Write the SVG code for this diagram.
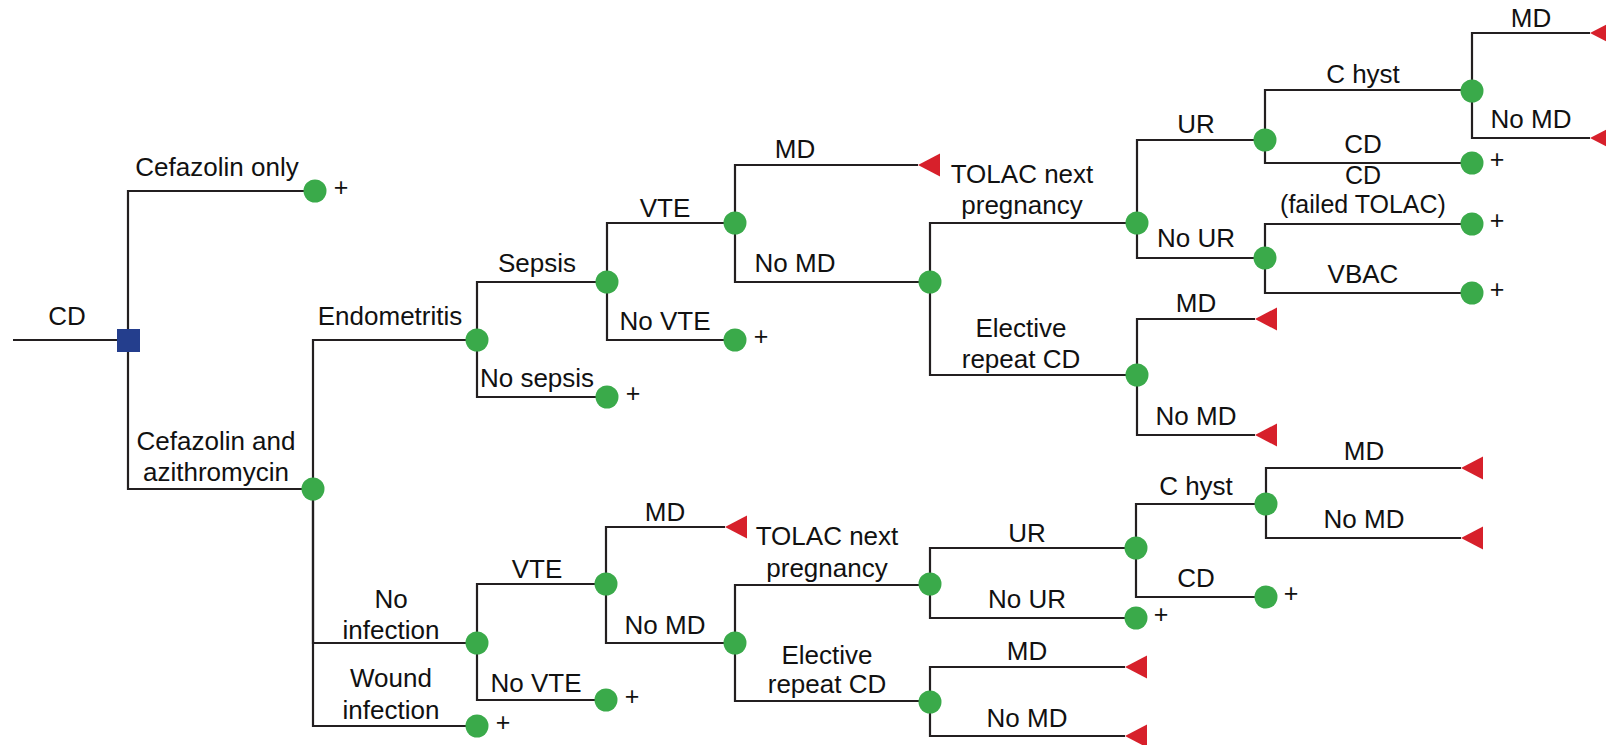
<svg xmlns="http://www.w3.org/2000/svg" width="1606" height="745" viewBox="0 0 1606 745">
<defs>
<style>
.ln{fill:none;stroke:#231f20;stroke-width:2.2}
.ch{fill:#3aaa4a}
.tm{fill:#d7202b}
.dc{fill:#243e8d}
text{font-family:"Liberation Sans",Arial,sans-serif;font-size:26px;fill:#111;text-anchor:middle}
.pl{font-size:25px}
.sm{font-size:25px}
</style>
<circle id="c" r="11.5" class="ch"/>
<polygon id="t" points="0,0 22,-11.5 22,11.5" class="tm"/>
</defs>
<rect width="1606" height="745" fill="#fff"/>
<g id="connectors">
<path class="ln" d="M13,340 H128"/>
<path class="ln" d="M128,340 V191 H315"/>
<path class="ln" d="M128,340 V489 H313"/>
<path class="ln" d="M313,489 V340 H477"/>
<path class="ln" d="M313,489 V643 H477"/>
<path class="ln" d="M313,489 V726 H477"/>
<path class="ln" d="M477,340 V282 H607"/>
<path class="ln" d="M477,340 V397 H607"/>
<path class="ln" d="M607,282 V223 H735"/>
<path class="ln" d="M607,282 V340 H735"/>
<path class="ln" d="M735,223 V165 H918"/>
<path class="ln" d="M735,223 V282 H930"/>
<path class="ln" d="M930,282 V223 H1137"/>
<path class="ln" d="M930,282 V375 H1137"/>
<path class="ln" d="M1137,223 V140 H1265"/>
<path class="ln" d="M1137,223 V258 H1265"/>
<path class="ln" d="M1265,140 V90 H1472"/>
<path class="ln" d="M1265,140 V163 H1472"/>
<path class="ln" d="M1472,91 V33 H1590"/>
<path class="ln" d="M1472,91 V138 H1590"/>
<path class="ln" d="M1265,258 V224 H1472"/>
<path class="ln" d="M1265,258 V293 H1472"/>
<path class="ln" d="M1137,375 V319 H1255"/>
<path class="ln" d="M1137,375 V435 H1255"/>
<path class="ln" d="M477,643 V584 H606"/>
<path class="ln" d="M477,643 V700 H606"/>
<path class="ln" d="M606,584 V527 H725"/>
<path class="ln" d="M606,584 V643 H735"/>
<path class="ln" d="M735,643 V585 H930"/>
<path class="ln" d="M735,643 V701 H930"/>
<path class="ln" d="M930,584 V548 H1136"/>
<path class="ln" d="M930,584 V618 H1136"/>
<path class="ln" d="M1136,548 V504 H1266"/>
<path class="ln" d="M1136,548 V597 H1266"/>
<path class="ln" d="M1266,504 V468 H1461"/>
<path class="ln" d="M1266,504 V538 H1461"/>
<path class="ln" d="M930,702 V667 H1125"/>
<path class="ln" d="M930,702 V736 H1125"/>
</g>
<g id="root"><rect class="dc" x="117" y="329" width="23" height="23"/><text x="67" y="325">CD</text></g>
<g id="cefazolin-only"><use href="#c" x="315" y="191"/><text class="pl" x="341" y="196">+</text><text x="217" y="176">Cefazolin only</text></g>
<g id="cef-azi"><use href="#c" x="313" y="489"/><text x="216" y="450">Cefazolin and</text><text x="216" y="481">azithromycin</text></g>
<g id="endometritis"><use href="#c" x="477" y="340"/><text x="390" y="325">Endometritis</text></g>
<g id="no-infection"><use href="#c" x="477" y="643"/><text x="391" y="608">No</text><text x="391" y="639">infection</text></g>
<g id="wound-infection"><use href="#c" x="477" y="726"/><text class="pl" x="503" y="731">+</text><text x="391" y="687">Wound</text><text x="391" y="719">infection</text></g>
<g id="sepsis"><use href="#c" x="607" y="282"/><text x="537" y="272">Sepsis</text></g>
<g id="no-sepsis"><use href="#c" x="607" y="397"/><text class="pl" x="633" y="402">+</text><text x="537" y="387">No sepsis</text></g>
<g id="vte1"><use href="#c" x="735" y="223"/><text x="665" y="217">VTE</text></g>
<g id="novte1"><use href="#c" x="735" y="340"/><text class="pl" x="761" y="345">+</text><text x="665" y="330">No VTE</text></g>
<g id="md1"><use href="#t" x="918" y="165"/><text x="795" y="158">MD</text></g>
<g id="nomd1"><use href="#c" x="930" y="282"/><text x="795" y="272">No MD</text></g>
<g id="tolac1"><use href="#c" x="1137" y="223"/><text x="1022" y="183">TOLAC next</text><text x="1022" y="214">pregnancy</text></g>
<g id="elective1"><use href="#c" x="1137" y="375"/><text x="1021" y="337">Elective</text><text x="1021" y="368">repeat CD</text></g>
<g id="ur1"><use href="#c" x="1265" y="140"/><text x="1196" y="133">UR</text></g>
<g id="nour1"><use href="#c" x="1265" y="258"/><text x="1196" y="247">No UR</text></g>
<g id="chyst1"><use href="#c" x="1472" y="91"/><text x="1363" y="83">C hyst</text></g>
<g id="cd1"><use href="#c" x="1472" y="163"/><text class="pl" x="1497" y="168">+</text><text x="1363" y="153">CD</text></g>
<g id="md-top"><use href="#t" x="1590" y="33"/><text x="1531" y="27">MD</text></g>
<g id="nomd-top"><use href="#t" x="1590" y="138"/><text x="1531" y="128">No MD</text></g>
<g id="cd-failed"><use href="#c" x="1472" y="224"/><text class="pl" x="1497" y="229">+</text><text class="sm" x="1363" y="184">CD</text><text class="sm" x="1363" y="213">(failed TOLAC)</text></g>
<g id="vbac"><use href="#c" x="1472" y="293"/><text class="pl" x="1497" y="298">+</text><text x="1363" y="283">VBAC</text></g>
<g id="md-el1"><use href="#t" x="1255" y="319"/><text x="1196" y="312">MD</text></g>
<g id="nomd-el1"><use href="#t" x="1255" y="435"/><text x="1196" y="425">No MD</text></g>
<g id="vte2"><use href="#c" x="606" y="584"/><text x="537" y="578">VTE</text></g>
<g id="novte2"><use href="#c" x="606" y="700"/><text class="pl" x="632" y="705">+</text><text x="536" y="692">No VTE</text></g>
<g id="md2"><use href="#t" x="725" y="527"/><text x="665" y="521">MD</text></g>
<g id="nomd2"><use href="#c" x="735" y="643"/><text x="665" y="634">No MD</text></g>
<g id="tolac2"><use href="#c" x="930" y="584"/><text x="827" y="545">TOLAC next</text><text x="827" y="577">pregnancy</text></g>
<g id="elective2"><use href="#c" x="930" y="702"/><text x="827" y="664">Elective</text><text x="827" y="693">repeat CD</text></g>
<g id="ur2"><use href="#c" x="1136" y="548"/><text x="1027" y="542">UR</text></g>
<g id="nour2"><use href="#c" x="1136" y="618"/><text class="pl" x="1161" y="623">+</text><text x="1027" y="608">No UR</text></g>
<g id="chyst2"><use href="#c" x="1266" y="504"/><text x="1196" y="495">C hyst</text></g>
<g id="cd2"><use href="#c" x="1266" y="597"/><text class="pl" x="1291" y="602">+</text><text x="1196" y="587">CD</text></g>
<g id="md-ch2"><use href="#t" x="1461" y="468"/><text x="1364" y="460">MD</text></g>
<g id="nomd-ch2"><use href="#t" x="1461" y="538"/><text x="1364" y="528">No MD</text></g>
<g id="md-el2"><use href="#t" x="1125" y="667"/><text x="1027" y="660">MD</text></g>
<g id="nomd-el2"><use href="#t" x="1125" y="736"/><text x="1027" y="727">No MD</text></g>
</svg>
